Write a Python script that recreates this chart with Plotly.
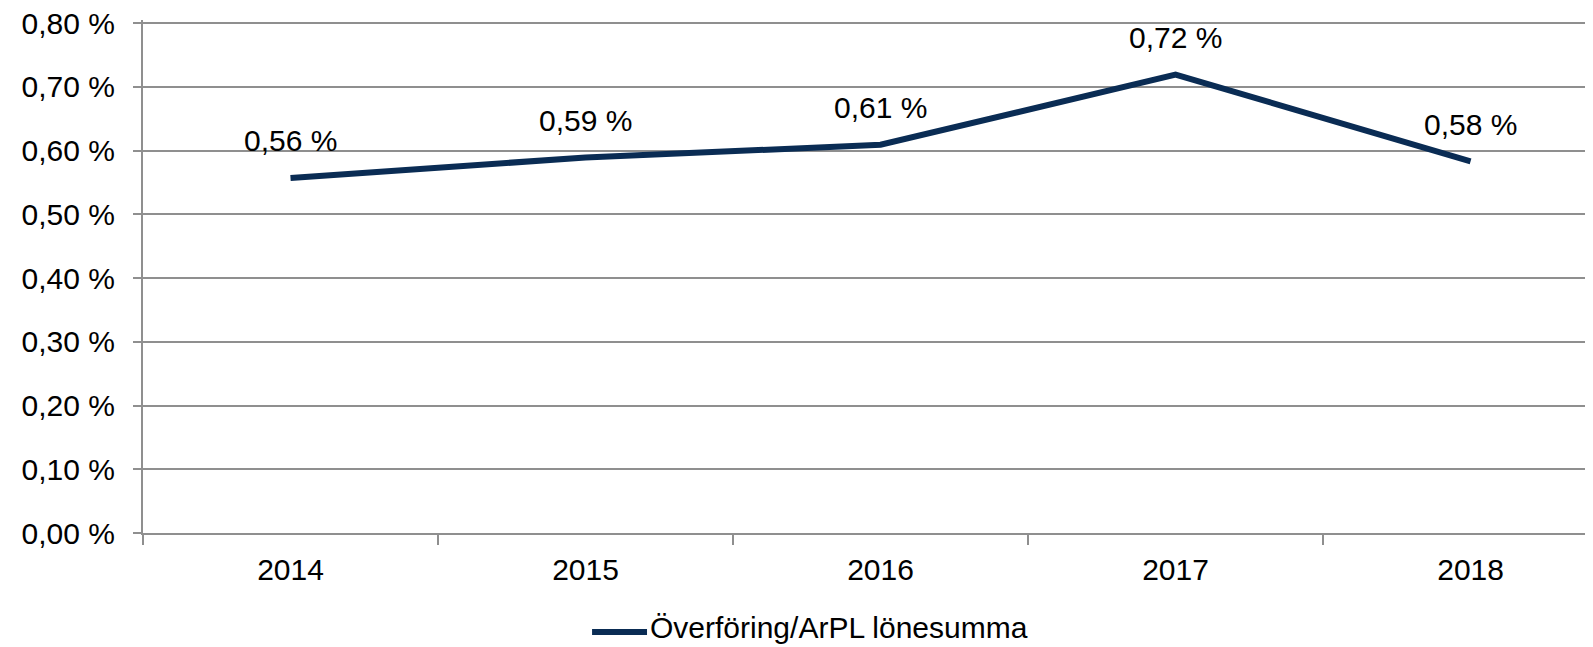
import plotly.graph_objects as go

years = ["2014", "2015", "2016", "2017", "2018"]
values = [0.557, 0.589, 0.609, 0.719, 0.583]
labels = ["0,56 %", "0,59 %", "0,61 %", "0,72 %", "0,58 %"]
y_ticks = [0.0, 0.1, 0.2, 0.3, 0.4, 0.5, 0.6, 0.7, 0.8]
y_tick_text = ["0,00 %", "0,10 %", "0,20 %", "0,30 %", "0,40 %", "0,50 %", "0,60 %", "0,70 %", "0,80 %"]
series_name = "Överföring/ArPL lönesumma"

FONT = "Liberation Sans, Arial, sans-serif"
LINE_COLOR = "#0a2c54"
GRID = "#8f8f8f"

fig = go.Figure()
fig.add_trace(go.Scatter(
    x=years, y=values, mode="lines", name=series_name,
    line=dict(color=LINE_COLOR, width=6),
    showlegend=False,
))

# data labels
for i, (v, t) in enumerate(zip(values, labels)):
    fig.add_annotation(x=i, y=v, xref="x", yref="y", text=t, showarrow=False, yshift=37,
                       font=dict(family=FONT, size=30, color="#000000"))

# legend (sample line + label) below the plot; paper coords for a 513px-high plot area
fig.add_shape(type="line", xref="paper", yref="paper",
              x0=0.3097, x1=0.3476, y0=-0.193, y1=-0.193,
              line=dict(color=LINE_COLOR, width=6))
fig.add_annotation(xref="paper", yref="paper", x=0.3483, y=-0.185,
                   xanchor="left", yanchor="middle", text=series_name, showarrow=False,
                   font=dict(family=FONT, size=30, color="#000000"))

# The page body has an 8px margin, so the figure is sized/offset to compensate
fig.update_layout(
    width=1585, height=639,
    margin=dict(l=135, r=0, t=12, b=114, autoexpand=False),
    paper_bgcolor="white", plot_bgcolor="white",
    font=dict(family=FONT, size=30, color="#000000"),
    showlegend=False,
    xaxis=dict(
        type="category", range=[-0.5, 4.415], automargin=False,
        showgrid=False, showline=True, linecolor=GRID, linewidth=2,
        ticks="outside", tickson="boundaries", ticklen=10, tickcolor=GRID, tickwidth=2,
        tickfont=dict(family=FONT, size=30), ticklabelstandoff=9,
    ),
    yaxis=dict(
        range=[0, 0.8047], tickvals=y_ticks, ticktext=y_tick_text, automargin=False,
        ticklabeloverflow="allow",
        showgrid=True, gridcolor=GRID, gridwidth=2,
        showline=True, linecolor=GRID, linewidth=2,
        ticks="outside", ticklen=8, tickcolor=GRID, tickwidth=2,
        tickfont=dict(family=FONT, size=30), ticklabelstandoff=12,
        zeroline=False,
    ),
)

fig.write_html("out.html")
